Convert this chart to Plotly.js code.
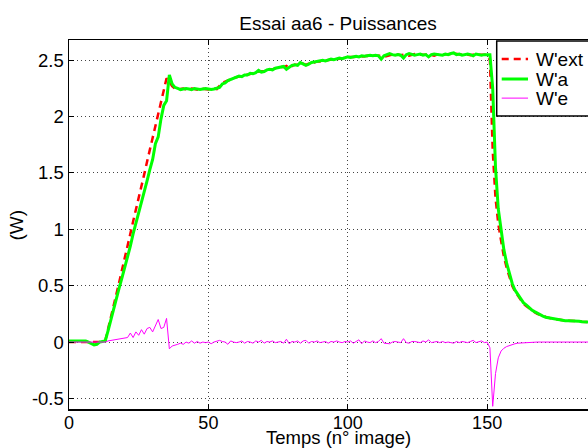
<!DOCTYPE html>
<html>
<head>
<meta charset="utf-8">
<script src="https://cdn.plot.ly/plotly-3.0.1.min.js"></script>
<style>
html,body{margin:0;padding:0;overflow:hidden;background:#fff;}
#chart{width:627px;height:448px;}
</style>
</head>
<body>
<div id="chart"></div>
<script>
// Frames start at 0, one value per image
var wExt = [
0,0,0,0,0,0,0,0,0,0,
0,0,0,0.01,0.11,0.22,0.32,0.43,0.53,0.64,
0.74,0.85,0.96,1.07,1.17,1.28,1.39,1.49,1.60,1.71,
1.81,1.92,2.03,2.13,2.24,2.34,2.31,2.27,2.25,2.24,
2.245,2.25,2.24,2.245,2.25,2.245,2.24,2.25,2.245,2.245,
2.24,2.245,2.25,2.245,2.27,2.30,2.31,2.32,2.335,2.34,
2.35,2.355,2.36,2.365,2.37,2.38,2.385,2.39,2.40,2.40,
2.405,2.41,2.42,2.42,2.43,2.43,2.44,2.44,2.45,2.43,
2.45,2.46,2.46,2.47,2.47,2.46,2.47,2.48,2.48,2.49,
2.49,2.495,2.50,2.50,2.505,2.51,2.51,2.515,2.52,2.52,
2.525,2.53,2.53,2.53,2.535,2.53,2.535,2.54,2.535,2.54,
2.54,2.545,2.54,2.53,2.54,2.545,2.55,2.545,2.55,2.545,
2.55,2.55,2.54,2.55,2.555,2.55,2.55,2.545,2.55,2.555,
2.55,2.54,2.55,2.55,2.555,2.55,2.55,2.555,2.56,2.555,
2.55,2.55,2.555,2.55,2.545,2.55,2.555,2.55,2.55,2.545,
2.55,2.50,1.70,1.28,1.05,0.90,0.76,0.66,0.57,0.50,
0.45,0.41,0.37,0.34,0.32,0.30,0.28,0.265,0.25,0.24,
0.23,0.22,0.215,0.21,0.205,0.20,0.20,0.195,0.19,0.19,
0.19,0.185,0.185,0.185,0.18,0.18,0.18,0.18,0.175,0.175,
0.175,0.175,0.175
];
var wA = [
0.01,0.01,0.01,0.01,0.005,0.01,0.01,0,-0.015,-0.025,
-0.02,0,0.005,0.01,0.10,0.20,0.30,0.39,0.48,0.57,
0.66,0.76,0.85,0.96,1.05,1.14,1.24,1.33,1.43,1.53,
1.62,1.76,1.82,1.98,2.10,2.14,2.37,2.29,2.26,2.25,
2.24,2.245,2.25,2.245,2.24,2.25,2.245,2.24,2.245,2.25,
2.245,2.24,2.245,2.25,2.26,2.29,2.30,2.32,2.33,2.345,
2.35,2.36,2.355,2.37,2.37,2.385,2.38,2.39,2.41,2.395,
2.40,2.415,2.42,2.415,2.43,2.435,2.44,2.445,2.42,2.44,
2.455,2.46,2.455,2.48,2.47,2.455,2.465,2.48,2.485,2.49,
2.49,2.50,2.495,2.50,2.51,2.505,2.51,2.52,2.515,2.52,
2.53,2.525,2.53,2.535,2.53,2.54,2.535,2.54,2.545,2.54,
2.545,2.54,2.51,2.54,2.55,2.56,2.55,2.545,2.55,2.545,
2.52,2.55,2.56,2.55,2.545,2.55,2.555,2.545,2.55,2.53,
2.55,2.555,2.55,2.55,2.545,2.555,2.55,2.56,2.565,2.55,
2.555,2.545,2.55,2.555,2.55,2.54,2.555,2.55,2.545,2.55,
2.55,2.55,2.25,1.55,1.18,0.98,0.82,0.70,0.60,0.52,
0.46,0.42,0.38,0.35,0.33,0.305,0.285,0.27,0.255,0.24,
0.23,0.22,0.215,0.21,0.205,0.20,0.20,0.195,0.19,0.19,
0.19,0.185,0.185,0.185,0.18,0.18,0.18,0.18,0.175,0.175,
0.175,0.175,0.175
];
var wE = [
0,0,0,0,0,0,0,0,0,0,
0,0,0,0,0.01,0.015,0.02,0.02,0.025,0.03,
0.035,0.04,0.08,0.04,0.09,0.06,0.11,0.07,0.12,0.13,
0.09,0.14,0.20,0.12,0.13,0.21,-0.06,-0.035,-0.03,-0.02,
-0.01,-0.02,0,-0.01,0.01,-0.01,0.005,-0.01,0,-0.005,
0,-0.015,0,0.01,0.015,0.005,0,-0.02,0.01,0,
-0.005,0,0.01,-0.01,0.005,0,-0.01,0.01,0,0.015,
-0.01,0.005,0,0.01,-0.005,0,0.005,-0.01,0.025,-0.015,
0.005,0,0.01,-0.01,0.01,0.015,-0.01,0.005,0,0.01,
-0.005,0,0.005,-0.01,0.005,0,0.01,0,-0.005,0.005,
0,0.01,-0.01,0.005,0.02,-0.015,0.01,0,-0.005,0.01,
-0.005,0.005,0.03,-0.01,-0.01,-0.015,0,0.005,0,-0.005,
0.03,-0.005,-0.01,0.005,0.005,0,-0.005,0.01,0,0.02,
-0.005,0,0.005,-0.005,0.005,-0.005,0,-0.005,-0.01,0.005,
-0.005,0.005,0,-0.005,0.005,0.015,-0.005,0.005,0.01,-0.005,
0,-0.05,-0.57,-0.28,-0.14,-0.08,-0.055,-0.04,-0.03,-0.02,
-0.015,-0.01,-0.008,-0.005,-0.003,-0.002,0,0,0,0,
0,0,0,0,0,0,0,0,0,0,
0,0,0,0,0,0,0,0,0,0,
0,0,0
];
var seriesNames = ["W'ext", "W'a", "W'e"];
var seriesColors = ['#ff0000', '#00ff00', '#ff00ff'];
var xTicks = [0, 50, 100, 150];
var yTicks = [-0.5, 0, 0.5, 1, 1.5, 2, 2.5];
var yTickLabels = ["-0.5", "0", "0.5", "1", "1.5", "2", "2.5"];
var chartTitle = 'Essai aa6 - Puissances';
var xTitle = 'Temps (n° image)';
var yTitle = '(W)';

var FONT = "Liberation Sans, Arial, Helvetica, sans-serif";
var lineStyles = [
  {color: seriesColors[0], width: 2.5, dash: '7px,5px'},
  {color: seriesColors[1], width: 3, dash: 'solid'},
  {color: seriesColors[2], width: 1, dash: 'solid'}
];
var seriesData = [wExt, wA, wE];

var traces = seriesData.map(function (ys, i) {
  return {y: ys, x0: 0, dx: 1, type: 'scatter', mode: 'lines', name: seriesNames[i],
          line: lineStyles[i], showlegend: false};
});

// MATLAB-style legend box drawn in paper coordinates
var legBox = {x0: 0.795, x1: 0.993, y0: 0.794, y1: 0.997};
var legRows = [0.9485, 0.8943, 0.8425];
var shapes = [{type: 'rect', xref: 'paper', yref: 'paper', layer: 'above',
  x0: legBox.x0, x1: legBox.x1, y0: legBox.y0, y1: legBox.y1,
  fillcolor: '#fff', line: {color: '#000', width: 1.5}}];
var annotations = [];
seriesNames.forEach(function (n, i) {
  shapes.push({type: 'line', xref: 'paper', yref: 'paper', layer: 'above',
    x0: 0.8043, x1: 0.8532, y0: legRows[i], y1: legRows[i], line: lineStyles[i]});
  annotations.push({xref: 'paper', yref: 'paper', x: 0.8643, y: legRows[i],
    xanchor: 'left', yanchor: 'middle', showarrow: false, text: n,
    font: {family: FONT, size: 19, color: '#000'}});
});
// axis titles
annotations.push({xref: 'paper', yref: 'paper', x: 0.5, y: -0.1084, xanchor: 'center', yanchor: 'bottom',
  showarrow: false, text: xTitle, borderpad: 0, font: {family: FONT, size: 18.5, color: '#000'}});
annotations.push({xref: 'paper', yref: 'paper', x: -0.0967, y: 0.5, xanchor: 'center', yanchor: 'middle',
  textangle: -90, showarrow: false, text: yTitle, borderpad: 0, font: {family: FONT, size: 19, color: '#000'}});

var axisCommon = {
  showline: true, linecolor: '#000', linewidth: 1.5, mirror: 'ticks',
  ticks: 'inside', ticklen: 5, tickcolor: '#000', tickwidth: 1,
  showgrid: true, gridcolor: '#444', gridwidth: 1, griddash: '1px,3px',
  zeroline: false,
  tickfont: {family: FONT, size: 18.5, color: '#000'}
};

var layout = {
  width: 627, height: 448,
  margin: {l: 69, r: 20, t: 40, b: 39, pad: 0},
  paper_bgcolor: '#fff', plot_bgcolor: '#fff',
  font: {family: FONT, size: 19, color: '#000'},
  showlegend: false,
  title: {text: chartTitle, font: {family: FONT, size: 19, color: '#000'},
          xref: 'paper', x: 0.5, xanchor: 'center', yref: 'container', y: 1 - 23/448, yanchor: 'middle'},
  xaxis: Object.assign({}, axisCommon, {
    range: [0, 193], tickmode: 'array', tickvals: xTicks, ticklabelstandoff: -3,
    tickfont: {family: FONT, size: 18, color: '#000'}
  }),
  yaxis: Object.assign({}, axisCommon, {
    range: [-0.594, 2.68], tickmode: 'array', tickvals: yTicks, ticktext: yTickLabels
  }),
  shapes: shapes,
  annotations: annotations
};

Plotly.newPlot('chart', traces, layout, {displayModeBar: false, staticPlot: true});
</script>
</body>
</html>
